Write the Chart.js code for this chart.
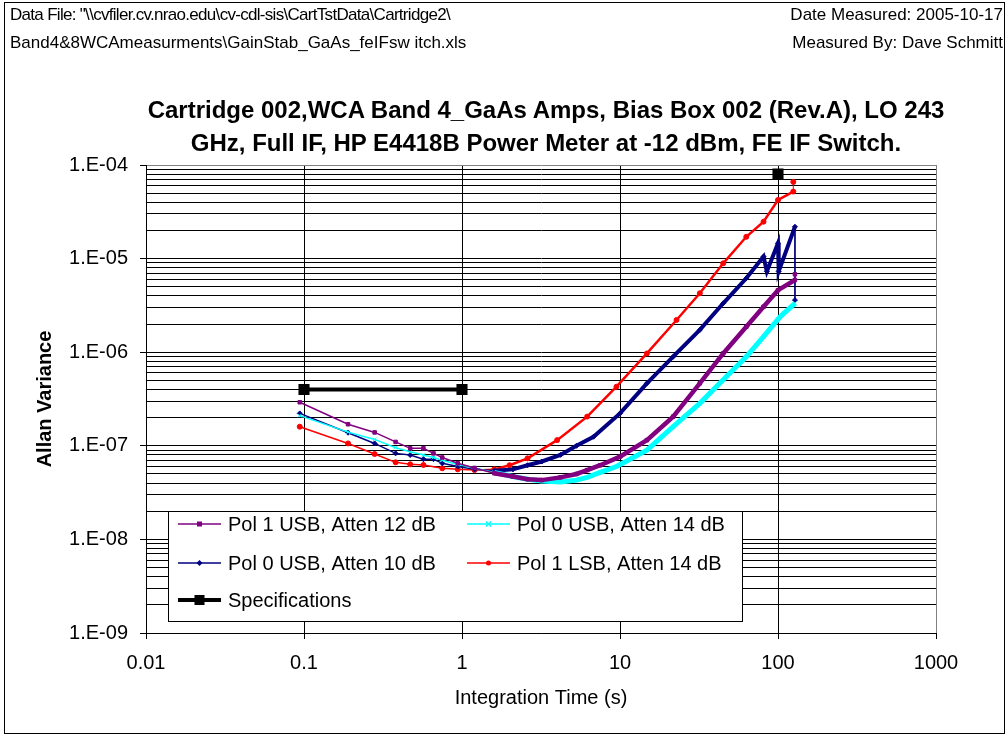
<!DOCTYPE html>
<html lang="en">
<head>
<meta charset="UTF-8">
<title>Gain Stability - Cartridge 002 Band 4</title>
<script src="https://cdn.jsdelivr.net/npm/chart.js"></script>
<style>
  html, body { margin: 0; padding: 0; background: #fff; }
  body { width: 1005px; height: 736px; position: relative; overflow: hidden; font-family: "Liberation Sans", Arial, sans-serif; color: #000; }
  #frame { position: absolute; left: 4px; top: 2px; width: 1001px; height: 732px; border: 1px solid #000; box-sizing: border-box; }
  .hdr { position: absolute; font-size: 17px; line-height: 20px; white-space: pre; }
  #title { position: absolute; left: 100px; width: 892px; top: 93px; text-align: center; font-weight: bold; font-size: 24px; line-height: 33px; white-space: nowrap; }
  #wrap { position: absolute; left: 0; top: 0; width: 1005px; height: 736px; }
</style>
</head>
<body>
  <div id="frame"></div>
  <div id="wrap"><canvas id="avChart"></canvas></div>
  <div class="hdr" style="left:10px; top:5px; letter-spacing:-0.7px;">Data File: "\\cvfiler.cv.nrao.edu\cv-cdl-sis\CartTstData\Cartridge2\</div>
  <div class="hdr" style="left:10px; top:33px;">Band4&amp;8WCAmeasurments\GainStab_GaAs_feIFsw itch.xls</div>
  <div class="hdr" style="right:2px; top:5px;">Date Measured: 2005-10-17</div>
  <div class="hdr" style="right:2px; top:33px;">Measured By: Dave Schmitt</div>
  <div id="title">Cartridge 002,WCA Band 4_GaAs Amps, Bias Box 002 (Rev.A), LO 243<br>GHz, Full IF, HP E4418B Power Meter at -12 dBm, FE IF Switch.</div>

<script>
  // Allan variance vs integration time (s), one pair of arrays per trace
  const pol1Usb12Time = [0.094, 0.19, 0.28, 0.38, 0.47, 0.57, 0.66, 0.75, 0.94, 1.2, 1.6, 2.1, 2.6, 3.2, 4.2, 5.3, 6.2, 7.5, 10, 14.8, 21.7, 32, 45, 63, 81, 100, 128, 128];
  const pol1Usb12Var  = [2.92e-7, 1.70e-7, 1.39e-7, 1.10e-7, 9.4e-8, 9.4e-8, 8.3e-8, 7.5e-8, 6.5e-8, 5.8e-8, 5.1e-8, 4.7e-8, 4.4e-8, 4.3e-8, 4.6e-8, 5.0e-8, 5.5e-8, 6.2e-8, 7.65e-8, 1.15e-7, 2.05e-7, 4.65e-7, 9.7e-7, 1.87e-6, 3.06e-6, 4.6e-6, 5.9e-6, 6.8e-6];

  const pol0Usb14Time = [0.094, 0.19, 0.28, 0.38, 0.47, 0.57, 0.66, 0.75, 0.94, 1.2, 1.6, 2.1, 2.6, 3.2, 4.2, 5.3, 6.2, 7.5, 9.5, 14.8, 21.7, 32, 47, 63, 81, 103, 128];
  const pol0Usb14Var  = [2.10e-7, 1.40e-7, 1.17e-7, 9.55e-8, 8.65e-8, 7.97e-8, 7.5e-8, 7.0e-8, 6.3e-8, 5.8e-8, 5.2e-8, 4.7e-8, 4.4e-8, 4.2e-8, 4.1e-8, 4.3e-8, 4.6e-8, 5.2e-8, 6.0e-8, 9.0e-8, 1.60e-7, 2.84e-7, 5.47e-7, 8.95e-7, 1.47e-6, 2.39e-6, 3.33e-6];

  const pol0Usb10Time = [0.094, 0.19, 0.28, 0.38, 0.47, 0.57, 0.66, 0.75, 0.94, 1.2, 1.6, 2.1, 2.6, 3.2, 4.2, 5.3, 6.8, 10, 14.8, 21.7, 32, 45, 63, 81, 85, 100, 101, 128, 128];
  const pol0Usb10Var  = [2.22e-7, 1.38e-7, 1.06e-7, 8.3e-8, 7.97e-8, 7.2e-8, 7.2e-8, 6.5e-8, 6.0e-8, 5.6e-8, 5.4e-8, 5.6e-8, 6.2e-8, 6.8e-8, 8.0e-8, 1.0e-7, 1.25e-7, 2.22e-7, 4.65e-7, 8.95e-7, 1.73e-6, 3.33e-6, 6.16e-6, 1.05e-5, 7.3e-6, 1.46e-5, 7.3e-6, 2.19e-5, 3.6e-6];

  const pol1Lsb14Time = [0.094, 0.19, 0.28, 0.38, 0.47, 0.57, 0.75, 0.94, 1.2, 1.6, 2.0, 2.6, 4.0, 6.2, 9.5, 14.8, 22.8, 32, 45, 63, 81, 100, 125, 125];
  const pol1Lsb14Var  = [1.60e-7, 1.06e-7, 8.17e-8, 6.66e-8, 6.34e-8, 6.24e-8, 5.75e-8, 5.6e-8, 5.5e-8, 5.6e-8, 6.2e-8, 7.35e-8, 1.15e-7, 2.05e-7, 4.28e-7, 9.7e-7, 2.21e-6, 4.26e-6, 8.9e-6, 1.71e-5, 2.48e-5, 4.23e-5, 5.2e-5, 6.6e-5];

  // spec limit: flat section plus one isolated point (null breaks the line)
  const specTime = [0.1, 1, 10, 100];
  const specVar  = [4e-7, 4e-7, null, 8e-5];

  const seriesNames = ['Pol 1 USB, Atten 12 dB', 'Pol 0 USB, Atten 14 dB', 'Pol 0 USB, Atten 10 dB', 'Pol 1 LSB, Atten 14 dB', 'Specifications'];
  const xTickValues = [0.01, 0.1, 1, 10, 100, 1000];
  const yMinExp = -9, yMaxExp = -4;

  const pts = (xs, ys) => xs.map((x, i) => ({ x, y: ys[i] }));

  // thin line at short taus, a heavier band where the samples get dense
  function band(w) {
    return ctx => {
      const a = ctx.p0.parsed.x, b = ctx.p1.parsed.x;
      if (a === b) return 1;
      return a >= 1.5 ? w : 1.5;
    };
  }

  function trace(label, data, color, style, w) {
    return {
      label, data,
      borderColor: color, backgroundColor: color,
      pointBackgroundColor: color, pointBorderColor: color,
      pointStyle: style, pointRadius: 2.5, pointBorderWidth: 1,
      borderWidth: 1.5, tension: 0,
      segment: { borderWidth: band(w) }
    };
  }

  const datasets = [
    trace(seriesNames[0], pts(pol1Usb12Time, pol1Usb12Var), '#800080', 'rect', 4.5),
    trace(seriesNames[1], pts(pol0Usb14Time, pol0Usb14Var), '#00FFFF', 'crossRot', 5),
    trace(seriesNames[2], pts(pol0Usb10Time, pol0Usb10Var), '#000080', 'rectRot', 4),
    trace(seriesNames[3], pts(pol1Lsb14Time, pol1Lsb14Var), '#FF0000', 'circle', 2.5),
    {
      label: seriesNames[4], data: pts(specTime, specVar),
      borderColor: '#000', backgroundColor: '#000',
      pointBackgroundColor: '#000', pointStyle: 'rect', pointRadius: 5,
      borderWidth: 4, spanGaps: false
    }
  ];

  function yTicks() {
    const out = [];
    for (let e = yMinExp; e < yMaxExp; e++) {
      for (let m = 1; m <= 9; m++) out.push({ value: Number(m + 'e' + e) });
    }
    out.push({ value: Number('1e' + yMaxExp) });
    return out;
  }

  function sciLabel(v) {
    const e = Math.round(Math.log10(v));
    const m = v / Math.pow(10, e);
    if (Math.abs(m - 1) > 1e-6) return '';
    return '1.E' + (e < 0 ? '-' : '+') + String(Math.abs(e)).padStart(2, '0');
  }

  // boxed two-column legend sitting inside the plot area
  const legendBox = {
    id: 'legendBox',
    afterDraw(chart) {
      const { ctx, chartArea: ca } = chart;
      const x0 = ca.left + 22, y0 = ca.top + 346, w = 574, h = 110;
      const cols = [x0 + 10, x0 + 299];
      const rows = [y0 + 13, y0 + 52, y0 + 89];
      ctx.save();
      ctx.fillStyle = '#fff';
      ctx.fillRect(x0, y0, w, h);
      ctx.strokeStyle = '#000';
      ctx.lineWidth = 1;
      ctx.strokeRect(Math.round(x0) + 0.5, Math.round(y0) + 0.5, w, h);
      ctx.font = '20px "Liberation Sans", Arial, sans-serif';
      ctx.textBaseline = 'middle';
      chart.data.datasets.forEach((ds, i) => {
        const sx = cols[i % 2], sy = rows[Math.floor(i / 2)];
        ctx.strokeStyle = ds.borderColor;
        ctx.fillStyle = ds.borderColor;
        ctx.lineWidth = ds.borderWidth;
        ctx.beginPath();
        ctx.moveTo(sx, sy);
        ctx.lineTo(sx + 43, sy);
        ctx.stroke();
        const r = ds.pointRadius, cx = sx + 21.5;
        ctx.lineWidth = 1;
        if (ds.pointStyle === 'rect') {
          ctx.fillRect(cx - r, sy - r, 2 * r, 2 * r);
        } else if (ds.pointStyle === 'rectRot') {
          ctx.beginPath();
          ctx.moveTo(cx, sy - r - 0.5); ctx.lineTo(cx + r + 0.5, sy);
          ctx.lineTo(cx, sy + r + 0.5); ctx.lineTo(cx - r - 0.5, sy);
          ctx.closePath(); ctx.fill();
        } else if (ds.pointStyle === 'crossRot') {
          ctx.lineWidth = 1.5;
          ctx.beginPath();
          ctx.moveTo(cx - r, sy - r); ctx.lineTo(cx + r, sy + r);
          ctx.moveTo(cx + r, sy - r); ctx.lineTo(cx - r, sy + r);
          ctx.stroke();
        } else {
          ctx.beginPath(); ctx.arc(cx, sy, r, 0, Math.PI * 2); ctx.fill();
        }
        ctx.fillStyle = '#000';
        ctx.fillText(ds.label, sx + 50, sy + 1);
      });
      ctx.restore();
    }
  };

  const gridGray = '#808080';

  new Chart(document.getElementById('avChart'), {
    type: 'line',
    data: { datasets },
    plugins: [legendBox],
    options: {
      responsive: true,
      maintainAspectRatio: false,
      animation: false,
      layout: { padding: { left: 10, right: 69, top: 165, bottom: 10 } },
      plugins: {
        legend: { display: false },
        title: { display: false },
        tooltip: { enabled: false }
      },
      scales: {
        x: {
          type: 'logarithmic',
          min: 0.01, max: 1000,
          afterBuildTicks: s => { s.ticks = xTickValues.map(v => ({ value: v })); },
          afterFit: s => { s.height = 93; },
          ticks: {
            autoSkip: false, maxRotation: 0, padding: 12, color: '#000',
            font: { family: '"Liberation Sans", Arial, sans-serif', size: 20 },
            callback: v => String(v)
          },
          grid: {
            color: c => (c.tick && c.tick.value === 1000 ? gridGray : '#000'),
            lineWidth: 1, tickLength: 6, tickColor: '#000'
          },
          border: { display: true, color: '#000', width: 1 },
          title: {
            display: true, text: 'Integration Time (s)', color: '#000',
            font: { family: '"Liberation Sans", Arial, sans-serif', size: 20 },
            padding: { top: 0, bottom: 16 }
          }
        },
        y: {
          type: 'logarithmic',
          min: Number('1e' + yMinExp), max: Number('1e' + yMaxExp),
          afterBuildTicks: s => { s.ticks = yTicks(); },
          afterFit: s => { s.width = 136; },
          ticks: {
            autoSkip: false, padding: 12, color: '#000',
            font: { family: '"Liberation Sans", Arial, sans-serif', size: 20 },
            callback: v => sciLabel(v)
          },
          grid: {
            color: c => (c.tick && Math.abs(c.tick.value - 1e-4) < 1e-12 ? gridGray : '#000'),
            lineWidth: 1, tickLength: 6,
            tickColor: c => (c.tick && sciLabel(c.tick.value) ? '#000' : 'rgba(0,0,0,0)')
          },
          border: { display: true, color: '#000', width: 1 },
          title: {
            display: true, text: 'Allan Variance', color: '#000',
            font: { family: '"Liberation Sans", Arial, sans-serif', size: 20, weight: 'bold' },
            padding: { top: 23, bottom: 0 }
          }
        }
      }
    }
  });
</script>
</body>
</html>
